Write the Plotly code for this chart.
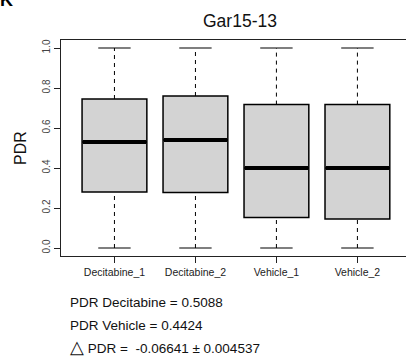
import plotly.graph_objects as go

categories = ["Decitabine_1", "Decitabine_2", "Vehicle_1", "Vehicle_2"]
positions = [1, 2, 3, 4]
q1 = [0.28, 0.278, 0.153, 0.145]
median = [0.53, 0.54, 0.40, 0.40]
q3 = [0.745, 0.76, 0.717, 0.717]
lower = [0.0, 0.0, 0.0, 0.0]
upper = [1.0, 1.0, 1.0, 1.0]
ytick_vals = [0.0, 0.2, 0.4, 0.6, 0.8, 1.0]
ytick_text = ["0.0", "0.2", "0.4", "0.6", "0.8", "1.0"]
summary_lines = ["PDR Decitabine = 0.5088", "PDR Vehicle = 0.4424",
                 "<span style='font-size:18px'>△</span> PDR =  -0.06641 ± 0.004537"]

BOXW = 0.8
CAPW = 0.4

fig = go.Figure()
fig.add_trace(go.Box(
    x=positions, q1=q1, median=median, q3=q3,
    lowerfence=q1, upperfence=q3,
    width=BOXW, fillcolor="#D3D3D3",
    line=dict(color="black", width=1.5),
    hoverinfo="skip", showlegend=False,
))

# whiskers
wx, wy = [], []
for p, a, b, c, d in zip(positions, lower, q1, q3, upper):
    wx += [p, p, None, p, p, None]
    wy += [a, b, None, c, d, None]
fig.add_trace(go.Scatter(x=wx, y=wy, mode="lines",
                         line=dict(color="black", width=1, dash="4px,4px"),
                         hoverinfo="skip", showlegend=False))
# caps
cx, cy = [], []
for p, a, d in zip(positions, lower, upper):
    cx += [p - CAPW / 2, p + CAPW / 2, None, p - CAPW / 2, p + CAPW / 2, None]
    cy += [a, a, None, d, d, None]
fig.add_trace(go.Scatter(x=cx, y=cy, mode="lines",
                         line=dict(color="black", width=1.2),
                         hoverinfo="skip", showlegend=False))
# medians
mx, my = [], []
for p, m in zip(positions, median):
    mx += [p - BOXW / 2 + 0.01, p + BOXW / 2 - 0.01, None]
    my += [m, m, None]
fig.add_trace(go.Scatter(x=mx, y=my, mode="lines",
                         line=dict(color="black", width=4),
                         hoverinfo="skip", showlegend=False))

fig.update_layout(
    width=406, height=362,
    margin=dict(l=61, r=0, t=40, b=106),
    paper_bgcolor="white", plot_bgcolor="white",
    font=dict(family="Liberation Sans, Arial, sans-serif", color="black"),
    showlegend=False,
)
fig.update_xaxes(
    range=[0.34, 4.60], tickvals=positions, ticktext=categories,
    showgrid=False, zeroline=False,
    showline=True, linecolor="#222", linewidth=1.2, mirror=True,
    ticks="outside", ticklen=6, tickcolor="#222", tickwidth=1,
    tickfont=dict(size=10.5, color="#222"),
)
fig.update_yaxes(
    range=[-0.04, 1.04], tickvals=ytick_vals, ticktext=ytick_text,
    showgrid=False, zeroline=False,
    showline=True, linecolor="#222", linewidth=1.2,
    ticks="outside", ticklen=6, tickcolor="#222", tickwidth=1,
    tickangle=-90, tickfont=dict(size=10, color="#444"),
    title=dict(text="PDR", font=dict(size=16, color="#111"), standoff=10),
)

fig.add_annotation(text="Gar15-13", xref="paper", yref="paper",
                   x=(240 - 61) / 345, y=1 + (40 - 21) / 216,
                   xanchor="center", yanchor="middle", showarrow=False,
                   font=dict(size=17.5, color="#111"))
fig.add_annotation(text="<b>K</b>", xref="paper", yref="paper",
                   x=-61 / 345 - 0.005, y=1 + (40 - 0) / 216,
                   xanchor="left", yanchor="middle", showarrow=False,
                   font=dict(size=18, color="black"))
for i, (line, yc) in enumerate(zip(summary_lines, [302, 325, 347])):
    fig.add_annotation(text=line, xref="paper", yref="paper",
                       x=(68 - 61) / 345, y=-(yc - 256) / 216,
                       xanchor="left", yanchor="middle", showarrow=False,
                       font=dict(size=13.5, color="#111"))

fig.write_html("out.html")
